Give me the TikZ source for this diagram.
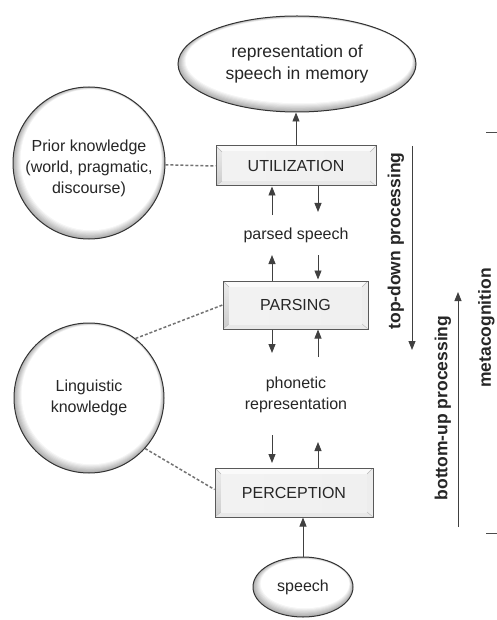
\documentclass[tikz,border=0pt]{standalone}
\usepackage{fontspec}
\setmainfont{Liberation Sans}
\usetikzlibrary{arrows.meta,shapes.geometric}
\newcommand\softdisc[4]{%
  \foreach \i in {0,...,8}{%
    \pgfmathsetmacro\pc{100*\i/8}%
    \fill[white!\pc!gray!65] ({#1+0.25*\i},{#2-0.4*\i}) ellipse [x radius={(#3-0.7*\i)*1pt}, y radius={(#4-0.7*\i)*1pt}];
  }}
\begin{document}
\begin{tikzpicture}[x=1pt,y=-1pt,
  lbl/.style={font=\fontsize{16}{21}\selectfont, align=center, text=black!85},
  knob/.style={circle, draw=black!80, line width=1pt, inner sep=0pt, lbl},
  oval/.style={ellipse, draw=black!80, line width=1pt, inner sep=0pt, lbl},
  stagebox/.style={draw=black!65, line width=1pt, inner sep=0pt, lbl,
    path picture={
      \path (path picture bounding box.north west) coordinate (bNW)
            (path picture bounding box.north east) coordinate (bNE)
            (path picture bounding box.south west) coordinate (bSW)
            (path picture bounding box.south east) coordinate (bSE);
      \path ([shift={(6pt,-6pt)}]bNW) coordinate (iNW)
            ([shift={(-6pt,-6pt)}]bNE) coordinate (iNE)
            ([shift={(6pt,5pt)}]bSW) coordinate (iSW)
            ([shift={(-6pt,5pt)}]bSE) coordinate (iSE);
      \fill[gray!4] (bNW) -- (bNE) -- (iNE) -- (iNW) -- cycle;
      \shade[top color=gray!15, bottom color=gray!40] (bNW) -- (iNW) -- (iSW) -- (bSW) -- cycle;
      \fill[gray!14] (bNE) -- (iNE) -- (iSE) -- (bSE) -- cycle;
      \fill[gray!18] (bSW) -- (iSW) -- (iSE) -- (bSE) -- cycle;
      \shade[left color=gray!10, middle color=gray!42, right color=gray!12] (iNW) rectangle (iSE);
      \draw[gray!55, line width=0.4pt] (bNW) -- (iNW) (bNE) -- (iNE) (bSW) -- (iSW) (bSE) -- (iSE);
    }},
  arr/.style={-{Triangle[length=9pt,width=7pt]}, line width=0.9pt, draw=black!75},
  link/.style={dash pattern=on 3pt off 2pt, line width=1.5pt, draw=black!55},
  side/.style={font=\bfseries\fontsize{17.5}{20}\selectfont, rotate=90, text=black!85, inner sep=0pt},
  tick/.style={line width=0.9pt, draw=black!70}]
\useasboundingbox (0,0) rectangle (496,620);

% soft shaded fills of the round shapes
\softdisc{297}{64}{119}{48}
\softdisc{89}{163}{76}{76}
\softdisc{89}{398}{75}{75}
\softdisc{303}{587}{50}{30}

% memory ellipse
\node[oval, minimum width=238pt, minimum height=96pt, font=\fontsize{17.5}{22}\selectfont] (mem) at (297,64) {representation of\\speech in memory};

% stage boxes
\node[stagebox, minimum width=160pt, minimum height=40pt] (util) at (296,166) {UTILIZATION};
\node[stagebox, minimum width=145pt, minimum height=48pt] (parse) at (295.5,305) {PARSING};
\node[stagebox, minimum width=158pt, minimum height=49pt] (percept) at (294,492.5) {PERCEPTION};

% knowledge circles
\node[knob, minimum size=152pt] (prior) at (89,163) {};
\node[lbl] (priortext) at (89,168) {Prior knowledge\\(world, pragmatic,\\discourse)};
\node[knob, minimum size=150pt] (ling) at (89,398) {Linguistic\\knowledge};

% speech
\node[oval, minimum width=100pt, minimum height=60pt] (speech) at (303,587) {speech};

% intermediate labels
\node[lbl] (parsed) at (296,235) {parsed speech};
\node[lbl] (phon) at (296,395) {phonetic\\representation};

% vertical arrows
\draw[arr] (util.north) -- (util.north |- mem.south);
\draw[arr] (speech.north) -- (speech.north |- percept.south);

\coordinate (a1) at (272,215);
\coordinate (a2) at (318,212);
\coordinate (a3) at (272,255);
\coordinate (a4) at (318,255);
\coordinate (a5) at (272,353);
\coordinate (a6) at (318,357);
\coordinate (a7) at (272,435);
\coordinate (a8) at (318,442);
\coordinate (a9) at (272,463);

\draw[arr] (a1) -- (a1 |- util.south);
\draw[arr] (a2 |- util.south) -- (a2);
\draw[arr] (a3 |- parse.north) -- (a3);
\draw[arr] (a4) -- ([yshift=1pt]a4 |- parse.north);
\draw[arr] (a5 |- parse.south) -- (a5);
\draw[arr] (a6) -- (a6 |- parse.south);
\draw[arr] (a7) -- (a9);
\draw[arr] (a8 |- percept.north) -- (a8);

% dashed links
\draw[link] (prior) -- (util.west);
\draw[link] (ling.52) -- (parse.west);
\draw[link] (ling.-42) -- ([yshift=3pt]percept.west);

% side annotations
\node[side] (td) at (396,241) {top-down processing};
\coordinate (tdA) at (412,146);
\coordinate (tdB) at (412,350);
\draw[arr] (tdA) -- (tdB);

\node[side] (bu) at (443,408) {bottom-up processing};
\coordinate (buA) at (458,527);
\coordinate (buB) at (458,292);
\draw[arr] (buA) -- (buB);

\node[side] (meta) at (486.5,328) {metacognition};
\coordinate (t1a) at (486,132);
\coordinate (t1b) at (497,132);
\coordinate (t2a) at (486,533);
\coordinate (t2b) at (497,533);
\draw[tick] (t1a) -- (t1b);
\draw[tick] (t2a) -- (t2b);
\end{tikzpicture}
\end{document}
